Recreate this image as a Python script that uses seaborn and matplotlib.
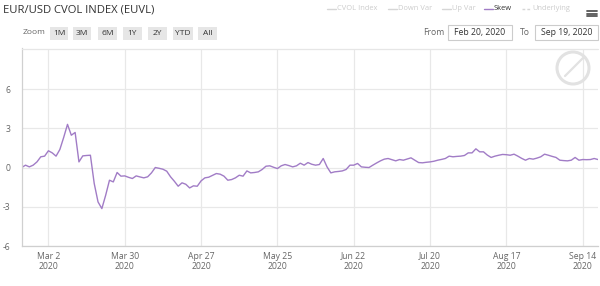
import numpy as np
import pandas as pd
import matplotlib
matplotlib.use("Agg")
import matplotlib.pyplot as plt
import seaborn as sns
from matplotlib.patches import Rectangle, Circle
from matplotlib.lines import Line2D

# ---------------- data ----------------
START = "2020-02-20"
END = "2020-09-18"
skew = [
    0.00, 0.18, 0.05, 0.18, 0.43, 0.82, 0.87,            # Feb 20 - Feb 28
    1.28, 1.12, 0.87, 1.38, 2.30,                        # Mar 2 - Mar 6
    3.30, 2.47, 2.68, 0.43, 0.89,                        # Mar 9
    0.92, 0.94, -1.22, -2.63, -3.14,                     # Mar 16
    -2.12, -0.97, -1.10, -0.38, -0.66,                   # Mar 23
    -0.64, -0.75, -0.84, -0.64, -0.72,                   # Mar 30
    -0.79, -0.71, -0.41, 0.00, -0.06,                    # Apr 6
    -0.13, -0.28, -0.71, -1.05, -1.43,                   # Apr 13
    -1.17, -1.28, -1.56, -1.40, -1.43,                   # Apr 20
    -1.02, -0.79, -0.74, -0.60, -0.46,                   # Apr 27
    -0.51, -0.66, -0.97, -0.92, -0.79,                   # May 4
    -0.59, -0.66, -0.26, -0.41, -0.38,                   # May 11
    -0.33, -0.15, 0.10, 0.13, 0.02,                      # May 18
    -0.08, 0.13, 0.23, 0.15, 0.05,                       # May 25
    0.13, 0.33, 0.18, 0.38, 0.25,                        # Jun 1
    0.18, 0.23, 0.69, 0.05, -0.41,                       # Jun 8
    -0.33, -0.30, -0.26, -0.15, 0.18,                    # Jun 15
    0.18, 0.31, 0.05, 0.02, 0.00,                        # Jun 22
    0.18, 0.35, 0.51, 0.64, 0.69,                        # Jun 29
    0.60, 0.51, 0.61, 0.56, 0.65,                        # Jul 6
    0.74, 0.56, 0.38, 0.36, 0.40,                        # Jul 13
    0.43, 0.48, 0.56, 0.62, 0.69,                        # Jul 20
    0.87, 0.82, 0.85, 0.87, 0.92,                        # Jul 27
    1.12, 1.12, 1.43, 1.20, 1.20,                        # Aug 3
    0.95, 0.77, 0.87, 0.94, 1.00,                        # Aug 10
    0.98, 0.94, 1.02, 0.87, 0.70,                        # Aug 17
    0.56, 0.69, 0.64, 0.72, 0.82,                        # Aug 24
    1.02, 0.94, 0.85, 0.77, 0.56,                        # Aug 31
    0.53, 0.51, 0.56, 0.77, 0.56,                        # Sep 7
    0.61, 0.60, 0.61, 0.69, 0.61,                        # Sep 14
]
tick_dates = ["2020-03-02", "2020-03-30", "2020-04-27", "2020-05-25",
              "2020-06-22", "2020-07-20", "2020-08-17", "2020-09-14"]
tick_labels = ["Mar 2\n2020", "Mar 30\n2020", "Apr 27\n2020", "May 25\n2020",
               "Jun 22\n2020", "Jul 20\n2020", "Aug 17\n2020", "Sep 14\n2020"]
y_ticks = [-6, -3, 0, 3, 6]
legend_items = ["CVOL Index", "Down Var", "Up Var", "Skew", "Underlying"]
zoom_buttons = ["1M", "3M", "6M", "1Y", "2Y", "YTD", "All"]
title = "EUR/USD CVOL INDEX (EUVL)"
from_label, to_label = "Feb 20, 2020", "Sep 19, 2020"

dates = pd.bdate_range(START, END)
df = pd.DataFrame({"date": dates, "pos": np.arange(len(dates)), "skew": skew})

# ---------------- figure ----------------
sns.set_theme(style="white")
plt.rcParams['font.family'] = ['Open Sans', 'DejaVu Sans']

W, H = 600, 286
fig = plt.figure(figsize=(W / 100, H / 100), dpi=100)
fig.patch.set_facecolor("white")

def fx(px):
    return px / W

def fy(py):
    return 1 - py / H

L, R, T, B = 21.7, 598, 48.5, 246
ax = fig.add_axes([fx(L), fy(B), (R - L) / W, (B - T) / H])

LINE = "#a17cc6"
sns.lineplot(data=df, x="pos", y="skew", ax=ax, color=LINE, lw=1.0)

ax.set_xlim(0, len(dates) - 1)
ax.set_ylim(-6, 9.1)
tick_pos = [dates.get_loc(pd.Timestamp(d)) for d in tick_dates]
ax.set_xticks(tick_pos)
ax.set_xticklabels(tick_labels, fontsize=6.2, color="#666666", linespacing=1.25)
ax.set_yticks(y_ticks)
ax.set_yticklabels([str(v) for v in y_ticks], fontsize=6.2, color="#666666")
ax.tick_params(axis="both", length=0)
ax.tick_params(axis="x", pad=4)
ax.tick_params(axis="y", pad=8)
ax.set_xlabel("")
ax.set_ylabel("")
ax.grid(True, color="#e8e8e8", lw=0.9)
ax.set_axisbelow(True)
for s in ["top", "right"]:
    ax.spines[s].set_visible(False)
ax.spines["left"].set_color("#d0d0d0")
ax.spines["left"].set_linewidth(0.9)
ax.spines["bottom"].set_color("#cfcfcf")
ax.spines["bottom"].set_linewidth(0.9)
# top border of plot
fig.add_artist(Line2D([fx(L), fx(R)], [fy(T), fy(T)], color="#e6e6e6", lw=0.9))

# watermark (circle in inch units so it stays round)
fig.add_artist(Circle((5.73, (H - 68) / 100), 0.16, transform=fig.dpi_scale_trans,
                      fill=False, ec="#e2e2e2", lw=2.2))
fig.add_artist(Line2D([fx(565), fx(583)], [fy(76), fy(58)], color="#e2e2e2", lw=1.6))

# ---------------- header ----------------
fig.text(fx(3), fy(10), title, fontsize=8.1, color="#333333", va="center", ha="left")

# legend
leg_x = [327, 388, 442, 484, 522]
for name, x0 in zip(legend_items, leg_x):
    active = name == "Skew"
    col = LINE if active else "#d6d6d6"
    ls = (0, (2, 1.5)) if name == "Underlying" else "-"
    fig.add_artist(Line2D([fx(x0), fx(x0 + 9)], [fy(8.5), fy(8.5)], color=col, lw=1.0, ls=ls))
    fig.text(fx(x0 + 10), fy(8.5), name, fontsize=5.4,
             color="#333333" if active else "#cccccc", va="center", ha="left")

# hamburger icon
for yy in [11, 13.5, 16]:
    fig.add_artist(Line2D([fx(587), fx(597)], [fy(yy), fy(yy)], color="#555555", lw=1.3))

# zoom buttons
fig.text(fx(23), fy(33), "Zoom", fontsize=6.0, color="#666666", va="center", ha="left")
btn_x = [50, 73, 98, 123, 148, 173, 198]
btn_w = [18, 18, 19, 19, 19, 20, 19]
for lab, x0, w in zip(zoom_buttons, btn_x, btn_w):
    fig.add_artist(Rectangle((fx(x0), fy(40)), w / W, 13 / H, transform=fig.transFigure,
                             fc="#e6e6e6", ec="none"))
    fig.text(fx(x0 + w / 2), fy(33.3), lab, fontsize=6.0, color="#333333",
             va="center", ha="center")

# range selector
fig.text(fx(423), fy(32.5), "From", fontsize=6.2, color="#666666", va="center", ha="left")
fig.add_artist(Rectangle((fx(448), fy(40)), 64 / W, 15 / H, transform=fig.transFigure,
                         fc="white", ec="#cccccc", lw=0.8))
fig.text(fx(480), fy(32.5), from_label, fontsize=6.2, color="#333333", va="center", ha="center")
fig.text(fx(520), fy(32.5), "To", fontsize=6.2, color="#666666", va="center", ha="left")
fig.add_artist(Rectangle((fx(535), fy(40)), 63 / W, 15 / H, transform=fig.transFigure,
                         fc="white", ec="#cccccc", lw=0.8))
fig.text(fx(566.5), fy(32.5), to_label, fontsize=6.2, color="#333333", va="center", ha="center")

fig.savefig("out.png", dpi=100, facecolor="white")
